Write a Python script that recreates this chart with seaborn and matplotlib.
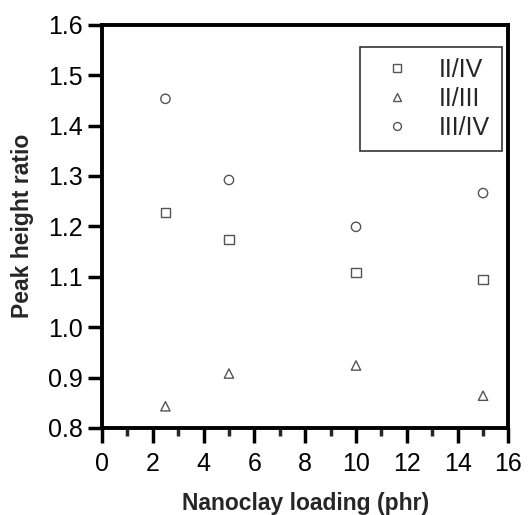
import matplotlib
matplotlib.use("Agg")
import matplotlib.pyplot as plt
import seaborn as sns
import pandas as pd
from matplotlib.ticker import MultipleLocator

loading = [2.5, 5, 10, 15]
ratio_2_4 = [1.227, 1.174, 1.109, 1.094]
ratio_2_3 = [0.843, 0.908, 0.924, 0.864]
ratio_3_4 = [1.453, 1.292, 1.199, 1.266]
series = ["II/IV", "II/III", "III/IV"]

df = pd.DataFrame({
    "loading": loading * 3,
    "ratio": ratio_2_4 + ratio_2_3 + ratio_3_4,
    "series": [s for s in series for _ in loading],
})

sns.set_style("ticks")
plt.rcParams["font.family"] = ["Liberation Sans", "DejaVu Sans"]

fig = plt.figure(figsize=(5.28, 5.15), dpi=100)
ax = fig.add_axes([0.193, 0.169, 0.77, 0.783])

sns.scatterplot(data=df, x="loading", y="ratio", style="series",
                markers={"II/IV": "s", "II/III": "^", "III/IV": "o"},
                color="none", edgecolor="#555555", linewidth=1.0,
                s=45, ax=ax, legend=True)
# open markers
for coll in ax.collections:
    coll.set_facecolor("none")
    coll.set_edgecolor("#555555")

ax.set_xlim(0, 16)
ax.set_ylim(0.8, 1.6)
ax.xaxis.set_major_locator(MultipleLocator(2))
ax.xaxis.set_minor_locator(MultipleLocator(1))
ax.yaxis.set_major_locator(MultipleLocator(0.1))
ax.tick_params(axis="both", which="major", direction="out", length=10, width=2.5,
               labelsize=18, colors="black", top=False, right=False, pad=4)
ax.tick_params(axis="x", which="major", length=11, pad=6)
ax.tick_params(axis="x", which="minor", direction="out", length=6, width=2.5,
               top=False)
ax.yaxis.set_major_formatter(matplotlib.ticker.FormatStrFormatter("%.1f"))
for sp in ax.spines.values():
    sp.set_visible(True)
    sp.set_linewidth(2.8)
    sp.set_color("black")

ax.set_xlabel("Nanoclay loading (phr)", fontsize=16.5, fontweight="bold", labelpad=12)
ax.set_ylabel("Peak height ratio", fontsize=16.5, fontweight="bold", labelpad=10)

leg = ax.legend(loc="upper right", fontsize=18, frameon=True, fancybox=False,
                edgecolor="black", handletextpad=0.7, borderpad=0.45,
                labelspacing=0.2, markerscale=0.85, borderaxespad=0,
                bbox_to_anchor=(0.983, 0.945))
leg.get_frame().set_linewidth(1.2)
for h in leg.legend_handles:
    if hasattr(h, "set_markerfacecolor"):
        h.set_markerfacecolor("none")
        h.set_markeredgecolor("#555555")
    else:
        h.set_facecolor("none")
        h.set_edgecolor("#555555")

fig.savefig("out.png", dpi=100, facecolor="white")
